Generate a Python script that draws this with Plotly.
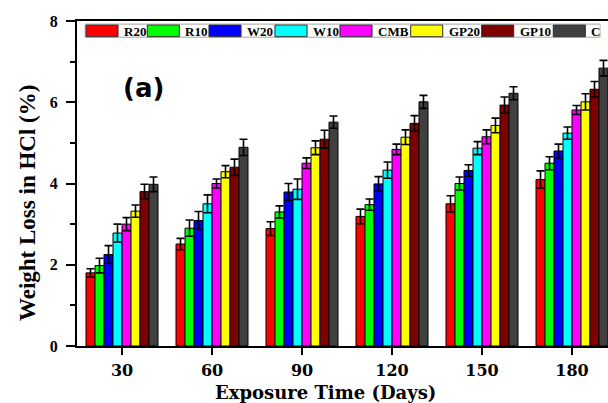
import plotly.graph_objects as go

# ---------------- data ----------------
days = [30, 60, 90, 120, 150, 180]
series_names = ["R20", "R10", "W20", "W10", "CMB", "GP20", "GP10", "C"]
series_colors = ["#FF0000", "#00FF00", "#0000FF", "#00FFFF", "#FF00FF", "#FFFF00", "#800000", "#404040"]

R20 = [1.80, 2.51, 2.89, 3.19, 3.50, 4.10]
R10 = [1.98, 2.90, 3.30, 3.48, 4.00, 4.50]
W20 = [2.25, 3.09, 3.79, 3.99, 4.32, 4.80]
W10 = [2.78, 3.50, 3.86, 4.33, 4.87, 5.24]
CMB = [3.00, 4.00, 4.50, 4.84, 5.15, 5.81]
GP20 = [3.32, 4.29, 4.88, 5.14, 5.43, 6.01]
GP10 = [3.80, 4.40, 5.09, 5.48, 5.93, 6.32]
C = [3.98, 4.89, 5.51, 6.01, 6.22, 6.84]

R20_err = [0.10, 0.14, 0.17, 0.18, 0.20, 0.21]
R10_err = [0.18, 0.20, 0.15, 0.14, 0.16, 0.16]
W20_err = [0.22, 0.22, 0.21, 0.18, 0.14, 0.17]
W10_err = [0.22, 0.22, 0.25, 0.20, 0.16, 0.15]
CMB_err = [0.16, 0.11, 0.13, 0.13, 0.17, 0.11]
GP20_err = [0.15, 0.15, 0.17, 0.18, 0.18, 0.20]
GP10_err = [0.18, 0.20, 0.22, 0.19, 0.20, 0.19]
C_err = [0.18, 0.20, 0.15, 0.16, 0.16, 0.19]

values = [R20, R10, W20, W10, CMB, GP20, GP10, C]
errors = [R20_err, R10_err, W20_err, W10_err, CMB_err, GP20_err, GP10_err, C_err]

y_tick_vals = [0, 2, 4, 6, 8]
x_title = "Exposure Time (Days)"
y_title = "Weight Loss in HCl (%)"
panel_label = "(a)"

# ---------------- layout constants (pixels) ----------------
W, H = 608, 403
ML, MR, MT, MB = 77, 0, 21, 57
PW, PH = W - ML - MR, H - MT - MB

def px(x):
    return (x - ML) / PW

def py(y):
    return (H - MB - y) / PH

fig = go.Figure()
for name, col, vals, errs in zip(series_names, series_colors, values, errors):
    fig.add_trace(go.Bar(
        x=days, y=vals, name=name,
        marker=dict(color=col, line=dict(color="black", width=1)),
        error_y=dict(type="data", array=errs, visible=True,
                     color="black", thickness=1.6, width=4),
        showlegend=False,
    ))

# ---- custom legend (wide swatches) ----
legend_swatch_x = [86, 147.3, 209, 275, 340, 410.7, 481.7, 553.3]
sw_w = 32
leg_top, leg_bot = 24, 37.5
leg_right = 600
shapes = []
annotations = []
shapes.append(dict(type="rect", xref="paper", yref="paper",
                   x0=px(85), x1=px(leg_right), y0=py(leg_bot), y1=py(leg_top),
                   line=dict(color="#BBBBBB", width=1), fillcolor="white", layer="above"))
for i, (name, col) in enumerate(zip(series_names, series_colors)):
    x0 = legend_swatch_x[i]
    next_x = legend_swatch_x[i + 1] if i + 1 < len(series_names) else leg_right
    shapes.append(dict(type="rect", xref="paper", yref="paper",
                       x0=px(x0 + sw_w), x1=px(next_x), y0=py(leg_bot - 0.5), y1=py(leg_top + 0.5),
                       line=dict(color="#C8C8C8", width=1), fillcolor="white", layer="above"))
    shapes.append(dict(type="rect", xref="paper", yref="paper",
                       x0=px(x0), x1=px(x0 + sw_w), y0=py(36.7), y1=py(25),
                       line=dict(color="#333333", width=1), fillcolor=col, layer="above"))
    annotations.append(dict(xref="paper", yref="paper", x=px(x0 + sw_w + 4), y=py(31),
                            xanchor="left", yanchor="middle", showarrow=False,
                            text="<b>%s</b>" % name,
                            font=dict(family="Liberation Serif", size=13, color="black")))

annotations.append(dict(xref="paper", yref="paper", x=px(143), y=py(88),
                        xanchor="center", yanchor="middle", showarrow=False,
                        text="<b>%s</b>" % panel_label,
                        font=dict(family="DejaVu Sans", size=26, color="black")))
annotations.append(dict(xref="paper", yref="paper", x=px(325.5), y=py(392),
                        xanchor="center", yanchor="middle", showarrow=False,
                        text="<b>%s</b>" % x_title,
                        font=dict(family="DejaVu Serif", size=18, color="black")))
annotations.append(dict(xref="paper", yref="paper", x=px(27), y=py(203),
                        xanchor="center", yanchor="middle", showarrow=False, textangle=-90,
                        text="<b>%s</b>" % y_title,
                        font=dict(family="Liberation Serif", size=23, color="black")))

fig.update_layout(
    width=W, height=H,
    margin=dict(l=ML, r=MR, t=MT, b=MB, pad=0),
    paper_bgcolor="white", plot_bgcolor="white",
    barmode="group", bargap=0.2, bargroupgap=0,
    shapes=shapes, annotations=annotations,
    xaxis=dict(
        range=[15, 192], tickvals=days, ticktext=["<b>%d</b>" % d for d in days],
        showgrid=False, zeroline=False, showline=True, linecolor="black", linewidth=2,
        mirror=True, ticks="outside", ticklen=7, tickwidth=2, tickcolor="black",
        ticklabelstandoff=2,
        tickfont=dict(family="DejaVu Serif", size=16, color="black"),
    ),
    yaxis=dict(
        range=[0, 8], tickvals=y_tick_vals, ticktext=["<b>%d</b>" % v for v in y_tick_vals],
        showgrid=False, zeroline=False, showline=True, linecolor="black", linewidth=2,
        ticks="outside", ticklen=9, tickwidth=2, tickcolor="black",
        ticklabelstandoff=5,
        tickfont=dict(family="Liberation Serif", size=16, color="black"),
        minor=dict(dtick=1, ticks="outside", ticklen=5, tickwidth=2, tickcolor="black"),
    ),
)

fig.write_html("out.html")
